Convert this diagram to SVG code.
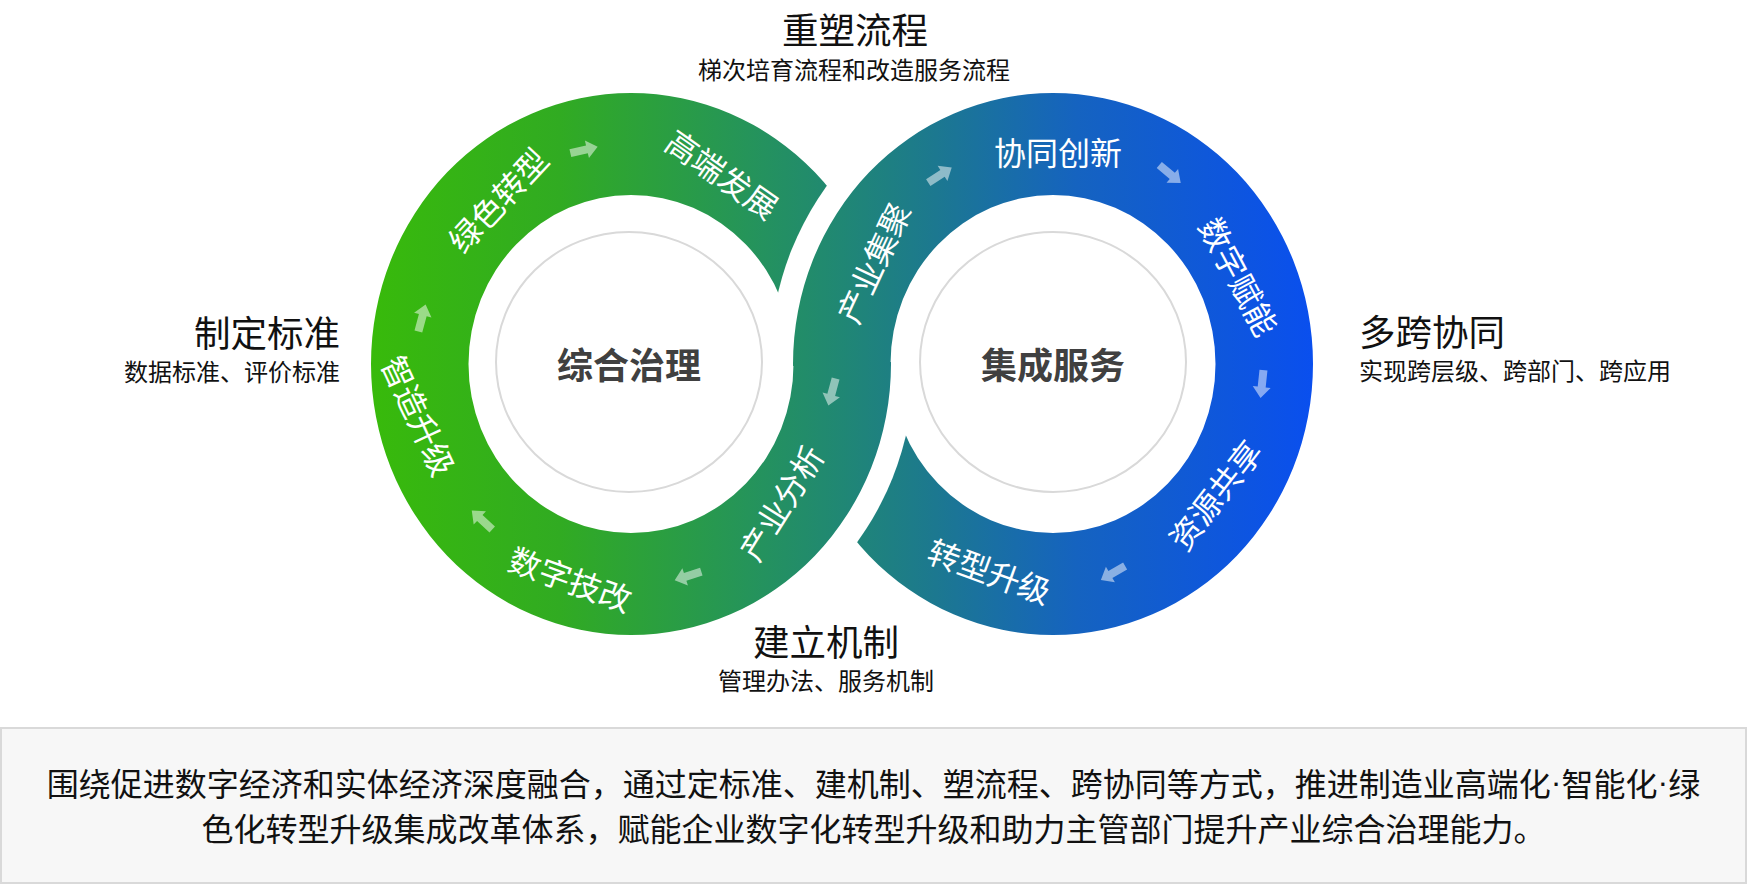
<svg xmlns="http://www.w3.org/2000/svg" width="1747" height="885" viewBox="0 0 1747 885">
<defs>
<style>
.t{font-family:"Noto Sans CJK SC","Noto Sans",sans-serif;dominant-baseline:central}
.ring{fill:#fff;font-size:32px;text-anchor:middle}
.ctr{fill:#404040;font-size:36px;font-weight:bold;text-anchor:middle}
.h1{fill:#111;font-size:36.5px}
.h2{fill:#111;font-size:24px}
.body{fill:#111;font-size:32px;text-anchor:middle}
.dot{font-family:"Liberation Sans",sans-serif}
.arr{fill:#fff;fill-opacity:0.5}
.gc{fill:#fff;stroke:#d9d9d9;stroke-width:2}
</style>
<linearGradient id="g" gradientUnits="userSpaceOnUse" x1="372" y1="0" x2="1312" y2="0">
<stop offset="0" stop-color="#38ba0b"/>
<stop offset="0.2" stop-color="#31ab22"/>
<stop offset="0.4" stop-color="#25945a"/>
<stop offset="0.5" stop-color="#208774"/>
<stop offset="0.6" stop-color="#1c7890"/>
<stop offset="0.75" stop-color="#1563c0"/>
<stop offset="1" stop-color="#0a4fee"/>
</linearGradient>
<mask id="mL" maskUnits="userSpaceOnUse" x="0" y="0" width="1747" height="885">
<rect width="1747" height="885" fill="#fff"/>
<path d="M770,362 A283,293 0 0 1 1336,362 Z" fill="#000"/>
</mask>
<mask id="mR" maskUnits="userSpaceOnUse" x="0" y="0" width="1747" height="885">
<rect width="1747" height="885" fill="#fff"/>
<path d="M348,366 A283,293 0 0 0 914,366 Z" fill="#000"/>
</mask>
<path id="ar" d="M-14,-4 L3,-4 L3,-9 L14,0 L3,9 L3,4 L-14,4 Z"/>
</defs>
<rect width="1747" height="885" fill="#fff"/>

<g id="ring-left">
<path fill="url(#g)" fill-rule="evenodd" mask="url(#mL)" d="M371,364 A260,271 0 1 0 891,364 A260,271 0 1 0 371,364 Z M468.5,364 A162.5,169 0 1 1 793.5,364 A162.5,169 0 1 1 468.5,364 Z"/>
</g>
<g id="ring-right">
<path fill="url(#g)" fill-rule="evenodd" mask="url(#mR)" d="M793,364 A260,271 0 1 0 1313,364 A260,271 0 1 0 793,364 Z M890.5,364 A162.5,169 0 1 1 1215.5,364 A162.5,169 0 1 1 890.5,364 Z"/>
</g>

<g id="node-zonghe">
<ellipse class="gc" cx="629" cy="362" rx="133" ry="130"/>
<text class="t ctr" x="629" y="363">综合治理</text>
</g>
<g id="node-jicheng">
<ellipse class="gc" cx="1053" cy="362" rx="133" ry="130"/>
<text class="t ctr" x="1053" y="363">集成服务</text>
</g>

<g id="node-lvse"><text class="t ring" transform="translate(497,199) rotate(-47)">绿色转型</text></g>
<g id="node-gaoduan"><text class="t ring" transform="translate(723,173) rotate(35)">高端发展</text></g>
<g id="node-jiju"><text class="t ring" transform="translate(872,262) rotate(-65)">产业集聚</text></g>
<g id="node-xietong"><text class="t ring" transform="translate(1058,151)">协同创新</text></g>
<g id="node-funeng"><text class="t ring" transform="translate(1240,276) rotate(62)">数字赋能</text></g>
<g id="node-gongxiang"><text class="t ring" transform="translate(1214,494) rotate(-52)">资源共享</text></g>
<g id="node-zhuanxing"><text class="t ring" transform="translate(990,570) rotate(20)">转型升级</text></g>
<g id="node-fenxi"><text class="t ring" transform="translate(780,502) rotate(-58)">产业分析</text></g>
<g id="node-jigai"><text class="t ring" transform="translate(571,578) rotate(20)">数字技改</text></g>
<g id="node-zhizao"><text class="t ring" transform="translate(420,415) rotate(65)">智造升级</text></g>

<g id="connectors" class="arr">
<use href="#ar" transform="translate(584,150) rotate(-13)"/>
<use href="#ar" transform="translate(940,175) rotate(-33)"/>
<use href="#ar" transform="translate(1170,174) rotate(40)"/>
<use href="#ar" transform="translate(1262,384) rotate(96)"/>
<use href="#ar" transform="translate(1113,573) rotate(150)"/>
<use href="#ar" transform="translate(832,392) rotate(105)"/>
<use href="#ar" transform="translate(688,576) rotate(162)"/>
<use href="#ar" transform="translate(482,520) rotate(-137)"/>
<use href="#ar" transform="translate(422,318) rotate(-75)"/>
</g>

<g id="label-top">
<text class="t h1" x="855" y="28" text-anchor="middle">重塑流程</text>
<text class="t h2" x="854" y="68" text-anchor="middle">梯次培育流程和改造服务流程</text>
</g>
<g id="label-left">
<text class="t h1" x="340" y="331" text-anchor="end">制定标准</text>
<text class="t h2" x="340" y="370" text-anchor="end">数据标准、评价标准</text>
</g>
<g id="label-right">
<text class="t h1" x="1359" y="330">多跨协同</text>
<text class="t h2" x="1359" y="369">实现跨层级、跨部门、跨应用</text>
</g>
<g id="label-bottom">
<text class="t h1" x="826" y="640" text-anchor="middle">建立机制</text>
<text class="t h2" x="826" y="679" text-anchor="middle">管理办法、服务机制</text>
</g>

<g id="summary">
<rect x="1" y="728" width="1745" height="155" fill="#f7f7f7" stroke="#d9d9d9" stroke-width="2"/>
<text class="t body" x="873.5" y="782">围绕促进数字经济和实体经济深度融合，通过定标准、建机制、塑流程、跨协同等方式，推进制造业高端化<tspan class="dot">·</tspan>智能化<tspan class="dot">·</tspan>绿</text>
<text class="t body" x="873.5" y="827">色化转型升级集成改革体系，赋能企业数字化转型升级和助力主管部门提升产业综合治理能力。</text>
</g>
</svg>
